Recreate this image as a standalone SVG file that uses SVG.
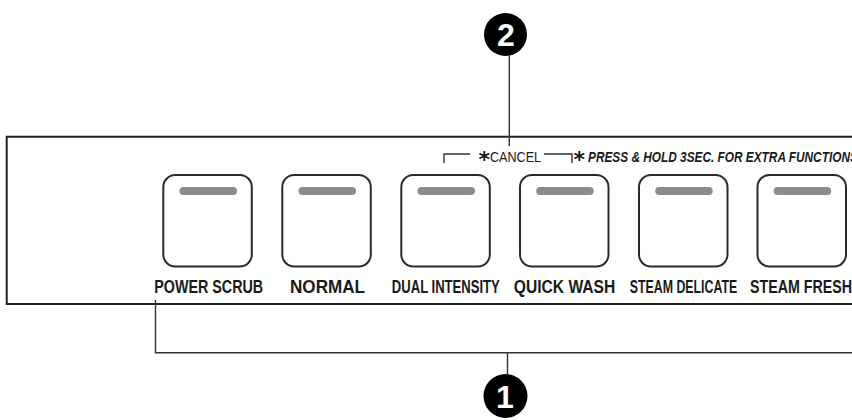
<svg xmlns="http://www.w3.org/2000/svg" width="852" height="420" viewBox="0 0 852 420">
<style>
.panel{fill:none;stroke:#222;stroke-width:2}
.btn{fill:#fff;stroke:#2a2a2a;stroke-width:2}
.led{fill:#8c8c8c}
.lbl{font-family:"Liberation Sans",Arial,sans-serif;font-weight:bold;font-size:19px;fill:#1a1a1a;text-anchor:middle}
.ln{fill:none;stroke:#333;stroke-width:1.4}
.num{fill:#000}
.numt{font-family:"Liberation Sans",Arial,sans-serif;font-weight:bold;font-size:32px;fill:#fff;text-anchor:middle}
.cancel{font-family:"Liberation Sans",Arial,sans-serif;font-size:14px;fill:#222}
.press{font-family:"Liberation Sans",Arial,sans-serif;font-weight:bold;font-style:italic;font-size:15px;fill:#1a1a1a}
.star{font-family:"DejaVu Sans",sans-serif;font-weight:bold;font-size:22px;fill:#1a1a1a}
</style>
<rect width="852" height="420" fill="#fff"/>
<path class="panel" d="M 860 136.7 H 6.7 V 304 H 860"/>

<g id="btn-power-scrub">
  <rect class="btn" x="163.3" y="175" width="88.5" height="91.5" rx="12"/>
  <rect class="led" x="179.5" y="187" width="57.5" height="8" rx="4"/>
  <text class="lbl" transform="translate(208.7,292.5) scale(0.754,1)">POWER SCRUB</text>
</g>
<g id="btn-normal">
  <rect class="btn" x="282.3" y="175" width="88.5" height="91.5" rx="12"/>
  <rect class="led" x="298.5" y="187" width="57.5" height="8" rx="4"/>
  <text class="lbl" transform="translate(327.5,292.5) scale(0.9,1)">NORMAL</text>
</g>
<g id="btn-dual-intensity">
  <rect class="btn" x="401.3" y="175" width="88.5" height="91.5" rx="12"/>
  <rect class="led" x="417.5" y="187" width="57.5" height="8" rx="4"/>
  <text class="lbl" transform="translate(445.8,292.5) scale(0.689,1)">DUAL INTENSITY</text>
</g>
<g id="btn-quick-wash">
  <rect class="btn" x="520" y="175" width="88.5" height="91.5" rx="12"/>
  <rect class="led" x="536.2" y="187" width="57.5" height="8" rx="4"/>
  <text class="lbl" transform="translate(564.5,292.5) scale(0.822,1)">QUICK WASH</text>
</g>
<g id="btn-steam-delicate">
  <rect class="btn" x="639" y="175" width="88.5" height="91.5" rx="12"/>
  <rect class="led" x="655.2" y="187" width="57.5" height="8" rx="4"/>
  <text class="lbl" transform="translate(683.5,292.5) scale(0.65,1)">STEAM DELICATE</text>
</g>
<g id="btn-steam-fresh">
  <rect class="btn" x="757.5" y="175" width="88.5" height="91.5" rx="12"/>
  <rect class="led" x="773.7" y="187" width="57.5" height="8" rx="4"/>
  <text class="lbl" transform="translate(801,292.5) scale(0.75,1)">STEAM FRESH</text>
</g>

<g id="cancel-note">
  <path class="ln" d="M 444 163 V 154 H 470 M 544 154 H 572 V 163"/>
  <text class="star" x="478.5" y="166.5">*</text>
  <text class="cancel" transform="translate(490,161.5) scale(0.9,1)">CANCEL</text>
  <text class="star" x="573.5" y="167">*</text>
  <text class="press" transform="translate(588,162) scale(0.79,1)">PRESS &amp; HOLD 3SEC. FOR EXTRA FUNCTIONS</text>
</g>

<g id="callout-2">
  <circle class="num" cx="505.5" cy="34.5" r="21.5"/>
  <text class="numt" x="506" y="46">2</text>
</g>
<g id="callout-1">
  <circle class="num" cx="505.5" cy="396" r="22"/>
  <text class="numt" x="505" y="407.5">1</text>
</g>

<g id="connectors">
  <path class="ln" d="M 509.3 55 V 146"/>
  <path class="ln" d="M 155.5 300 V 352.7 H 860 M 507.5 352.7 V 375"/>
</g>
</svg>
